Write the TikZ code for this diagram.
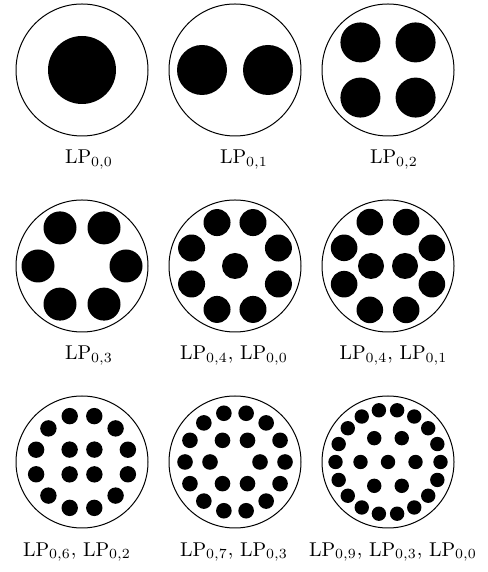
\documentclass[tikz,border=0pt]{standalone}
\usetikzlibrary{positioning}

\begin{document}
\begin{tikzpicture}[
    x=0.5pt, y=0.5pt,
    fibre/.style={
        circle,
        draw=black,
        line width=0.5pt,
        minimum size=66pt,
        inner sep=0pt
    },
    core/.style={
        fill=black
    },
    mode_label/.style={
        anchor=base,
        inner sep=0pt,
        font=\normalsize
    }
]
    \useasboundingbox (0,0) rectangle (487,572);

    % FIBRE CROSS SECTIONS (three rows)
    \node[fibre] (f00) at (82,502) {};
    \node[fibre] (f01) at (235,502) {};
    \node[fibre] (f02) at (388,502) {};
    \node[fibre] (f03) at (82,306) {};
    \node[fibre] (f40) at (235,306) {};
    \node[fibre] (f41) at (388,306) {};
    \node[fibre] (f62) at (82,110) {};
    \node[fibre] (f73) at (235,110) {};
    \node[fibre] (f930) at (388,110) {};

    % ROW 1: one, two and four cores
    \fill[core] (f00) circle[radius=34];
    \foreach \k in {0,1}
        \fill[core] (f01) ++({180*\k}:33) circle[radius=25];
    \foreach \k in {0,...,3}
        \fill[core] (f02) ++({45+90*\k}:39) circle[radius=20];

    % ROW 2: six cores, then rings of eight with inner cores
    \foreach \k in {0,...,5}
        \fill[core] (f03) ++({60*\k}:44) circle[radius=16.5];
    \foreach \k in {0,...,7}
        \fill[core] (f40) ++({22.5+45*\k}:47) circle[radius=13.5];
    \fill[core] (f40) circle[radius=13];
    \foreach \k in {0,...,7}
        \fill[core] (f41) ++({22.5+45*\k}:47.5) circle[radius=13.3];
    \foreach \k in {0,1}
        \fill[core] (f41) ++({180*\k}:17) circle[radius=13];

    % ROW 3: dense rings
    \foreach \k in {0,...,11}
        \fill[core] (f62) ++({15+30*\k}:47.5) circle[radius=8.2];
    \foreach \k in {0,...,3}
        \fill[core] (f62) ++({45+90*\k}:17.5) circle[radius=8.2];
    \foreach \k in {0,...,13}
        \fill[core] (f73) ++({360/14*\k}:50) circle[radius=7.8];
    \foreach \k in {0,...,5}
        \fill[core] (f73) ++({60*\k}:25) circle[radius=7.8];
    \foreach \k in {0,...,17}
        \fill[core] (f930) ++({20*\k}:52.5) circle[radius=7.2];
    \foreach \k in {0,...,5}
        \fill[core] (f930) ++({60*\k}:27.5) circle[radius=7.2];
    \fill[core] (f930) circle[radius=7.2];

    % MODE LABELS
    \node[mode_label] (l00) at (89,408) {$\mathrm{LP}_{0,0}$};
    \node[mode_label] (l01) at (244,408) {$\mathrm{LP}_{0,1}$};
    \node[mode_label] (l02) at (394,408) {$\mathrm{LP}_{0,2}$};
    \node[mode_label] (l03) at (89,212) {$\mathrm{LP}_{0,3}$};
    \node[mode_label] (l40) at (234,212) {$\mathrm{LP}_{0,4}$, $\mathrm{LP}_{0,0}$};
    \node[mode_label] (l41) at (393.5,212) {$\mathrm{LP}_{0,4}$, $\mathrm{LP}_{0,1}$};
    \node[mode_label] (l62) at (77,16) {$\mathrm{LP}_{0,6}$, $\mathrm{LP}_{0,2}$};
    \node[mode_label] (l73) at (234,16) {$\mathrm{LP}_{0,7}$, $\mathrm{LP}_{0,3}$};
    \node[mode_label] (l930) at (393,16) {$\mathrm{LP}_{0,9}$, $\mathrm{LP}_{0,3}$, $\mathrm{LP}_{0,0}$};

\end{tikzpicture}
\end{document}
